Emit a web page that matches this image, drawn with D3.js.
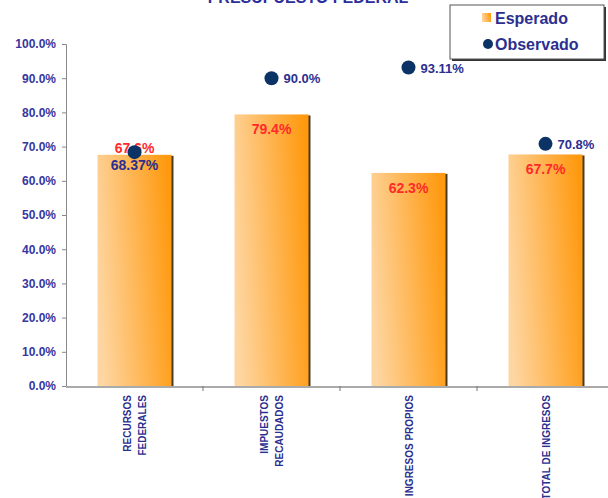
<!DOCTYPE html>
<html>
<head>
    <script src="https://d3js.org/d3.v7.min.js"></script>
    <style>
        body { margin: 0; background: #fff; font-family: "Liberation Sans", Arial, sans-serif; }
    </style>
</head>
<body>
    <svg id="chart" width="608" height="498"></svg>
    <script>
        const categories = [["RECURSOS", "FEDERALES"], ["IMPUESTOS", "RECAUDADOS"], ["INGRESOS PROPIOS"], ["TOTAL DE INGRESOS"]];
        const esperado = [67.6, 79.4, 62.3, 67.7];
        const observado = [68.37, 90.0, 93.11, 70.8];
        const observadoLabels = ["68.37%", "90.0%", "93.11%", "70.8%"];
        const yTicks = [0, 10, 20, 30, 40, 50, 60, 70, 80, 90, 100];

        const svg = d3.select("#chart");
        const navy = "#2b2f8f";

        const defs = svg.append("defs");
        const grad = defs.append("linearGradient").attr("id", "barGrad")
            .attr("x1", "0%").attr("y1", "60%").attr("x2", "100%").attr("y2", "40%");
        grad.append("stop").attr("offset", "0%").attr("stop-color", "#fed6a2");
        grad.append("stop").attr("offset", "100%").attr("stop-color", "#ff9a10");

        const x = d3.scaleBand().domain(d3.range(categories.length)).range([66, 614])
            .paddingInner(0.46).paddingOuter(0.23);
        const y = d3.scaleLinear().domain([0, 100]).range([386, 44]);

        // title (cut off at top, as in the original)
        svg.append("text").attr("x", 308).attr("y", 3)
            .attr("text-anchor", "middle").attr("font-size", 16).attr("font-weight", "bold")
            .attr("fill", "#2b2f9b").text("PRESUPUESTO FEDERAL");

        // y axis
        const yAxis = svg.append("g").attr("transform", "translate(66,0)")
            .call(d3.axisLeft(y).tickValues(yTicks).tickSize(4).tickPadding(6)
                .tickFormat(d => d.toFixed(1) + "%"));
        yAxis.select(".domain").attr("stroke", "#888");
        yAxis.selectAll(".tick line").attr("stroke", "#888");
        yAxis.selectAll("text").attr("font-size", 12).attr("font-weight", "bold")
            .attr("fill", "#3636a0").attr("font-family", "Liberation Sans, Arial, sans-serif");

        // bars
        svg.selectAll(".shadow").data(esperado).enter().append("rect")
            .attr("x", (d, i) => x(i) + 2).attr("y", d => y(d) + 1)
            .attr("width", x.bandwidth()).attr("height", d => y(0) - y(d) - 1)
            .attr("fill", "#4a3a20");
        svg.selectAll(".bar").data(esperado).enter().append("rect")
            .attr("x", (d, i) => x(i)).attr("y", d => y(d))
            .attr("width", x.bandwidth()).attr("height", d => y(0) - y(d))
            .attr("fill", "url(#barGrad)");

        // x axis
        svg.append("line").attr("x1", 66).attr("x2", 608).attr("y1", 387).attr("y2", 387)
            .attr("stroke", "#aaa").attr("stroke-width", 2);
        const step = x.step();
        [1, 2, 3].forEach(k => {
            const tx = 66 + step * k;
            svg.append("line").attr("x1", tx).attr("x2", tx).attr("y1", 386).attr("y2", 391)
                .attr("stroke", "#777");
        });

        // category labels
        categories.forEach((lines, i) => {
            const cx = x(i) + x.bandwidth() / 2;
            const g = svg.append("g").attr("transform", `translate(${cx},395) rotate(-90)`);
            lines.forEach((ln, j) => {
                const off = (j - (lines.length - 1) / 2) * 15;
                g.append("text").attr("x", 0).attr("y", off + 4)
                    .attr("text-anchor", "end").attr("font-size", 10).attr("font-weight", "bold")
                    .attr("fill", navy).text(ln);
            });
        });

        // esperado labels
        svg.selectAll(".elab").data(esperado).enter().append("text")
            .attr("x", (d, i) => x(i) + x.bandwidth() / 2)
            .attr("y", (d, i) => i === 0 ? y(d) - 2 : y(d) + 20)
            .attr("text-anchor", "middle").attr("font-size", 14).attr("font-weight", "bold")
            .attr("fill", "#ff2a2a").text(d => d.toFixed(1) + "%");

        // observado points
        svg.selectAll(".dot").data(observado).enter().append("circle")
            .attr("cx", (d, i) => x(i) + x.bandwidth() / 2).attr("cy", d => y(d))
            .attr("r", 7).attr("fill", "#0b3366");

        svg.selectAll(".olab").data(observado).enter().append("text")
            .attr("x", (d, i) => i === 0 ? x(i) + x.bandwidth() / 2 : x(i) + x.bandwidth() / 2 + 12)
            .attr("y", (d, i) => i === 0 ? y(d) + 18 : y(d) + 5)
            .attr("text-anchor", (d, i) => i === 0 ? "middle" : "start")
            .attr("font-size", (d, i) => i === 0 ? 14 : 13).attr("font-weight", "bold")
            .attr("fill", navy).text((d, i) => observadoLabels[i]);

        // legend
        const lg = svg.append("g");
        lg.append("rect").attr("x", 452).attr("y", 7).attr("width", 154).attr("height", 54).attr("fill", "#333");
        lg.append("rect").attr("x", 450).attr("y", 5).attr("width", 154).attr("height", 54)
            .attr("fill", "#fff").attr("stroke", "#555").attr("stroke-width", 1);
        lg.append("rect").attr("x", 482).attr("y", 13).attr("width", 9).attr("height", 9).attr("fill", "url(#barGrad)");
        lg.append("text").attr("x", 495).attr("y", 24).attr("font-size", 16).attr("font-weight", "bold")
            .attr("fill", navy).text("Esperado");
        lg.append("circle").attr("cx", 488).attr("cy", 44).attr("r", 5).attr("fill", "#0b3366");
        lg.append("text").attr("x", 495).attr("y", 50).attr("font-size", 16).attr("font-weight", "bold")
            .attr("fill", navy).text("Observado");
    </script>
</body>
</html>
